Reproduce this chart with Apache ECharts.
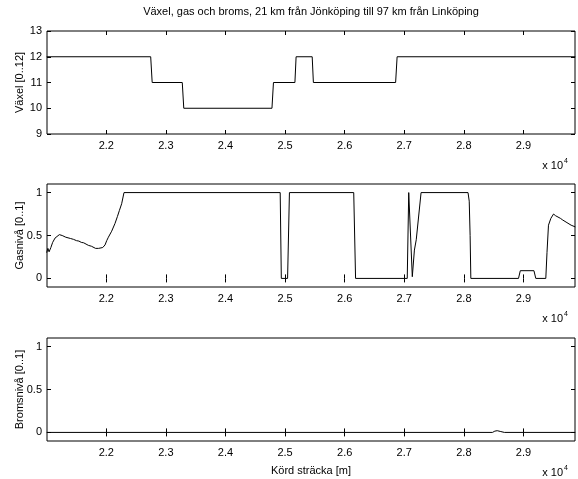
<!DOCTYPE html>
<html><head><meta charset="utf-8">
<script src="https://cdn.jsdelivr.net/npm/echarts@6/dist/echarts.min.js"></script>
<style>html,body{margin:0;padding:0;background:#fff}#c{width:578px;height:479px}</style>
</head><body><div id="c"></div>
<script>
var titleText = 'Växel, gas och broms, 21 km från Jönköping till 97 km från Linköping';
var yNames = ['Växel [0..12]', 'Gasnivå [0..1]', 'Bromsnivå [0..1]'];
var xName = 'Körd sträcka [m]';
var xTicks = [22000, 23000, 24000, 25000, 26000, 27000, 28000, 29000];
var gearTicks = [9, 10, 11, 12, 13];
var levelTicks = [0, 0.5, 1];

var gearX = [21000, 22745, 22770, 23275, 23300, 24780, 24805, 25165, 25185, 25455, 25475, 26855, 26880, 29870];
var gearY = [12, 12, 11, 11, 10, 10, 11, 11, 12, 12, 11, 11, 12, 12];

var gasX = [21000, 21020, 21040, 21070, 21100, 21140, 21170, 21212, 21260, 21320, 21400, 21450, 21500, 21540, 21580, 21600, 21620, 21660, 21700, 21720, 21750, 21780, 21820, 21870, 21895, 21940, 21979, 22007, 22035, 22090, 22146, 22186, 22219, 22258, 22297,
  24918, 24937, 25042, 25073, 26152, 26183, 27050, 27075, 27095, 27135, 27170, 27201, 27282, 28070, 28090, 28105, 28117, 28917, 28947, 29176, 29207, 29375, 29395, 29420, 29460, 29505, 29540, 29620, 29660, 29730, 29800, 29870];
var gasY = [0.30, 0.35, 0.31, 0.36, 0.42, 0.47, 0.48, 0.51, 0.50, 0.48, 0.465, 0.455, 0.44, 0.435, 0.42, 0.41, 0.415, 0.40, 0.385, 0.39, 0.375, 0.365, 0.35, 0.35, 0.345, 0.36, 0.39, 0.44, 0.48, 0.55, 0.64, 0.72, 0.79, 0.87, 1.0,
  1.0, 0, 0, 1.0, 1.0, 0, 0, 1.0, 1.0, 0.02, 0.33, 0.45, 1.0, 1.0, 0.9, 0.5, 0, 0, 0.09, 0.09, 0, 0, 0.3, 0.62, 0.70, 0.75, 0.73, 0.70, 0.68, 0.65, 0.62, 0.60];

var brakeX = [21000, 28480, 28520, 28560, 28620, 28680, 29870];
var brakeY = [0, 0, 0.015, 0.02, 0.01, 0, 0];

function pairs(xs, ys) { return xs.map(function (x, i) { return [x, ys[i]]; }); }

var FONT = 'Liberation Sans, Arial, sans-serif';
var FS = 11;
var XMIN = 21005, XMAX = 29865;
var tops = [31, 184, 338], H = 103, LEFT = 47, W = 528;

var grids = [], xAxes = [], yAxes = [], series = [];
var datasets = [pairs(gearX, gearY), pairs(gasX, gasY), pairs(brakeX, brakeY)];
for (var k = 0; k < 3; k++) {
  grids.push({ left: LEFT, top: tops[k], width: W, height: H, show: true, borderColor: '#000', borderWidth: 1, backgroundColor: 'transparent' });
  var tickCommon = { show: true, inside: true, length: 4, lineStyle: { color: '#000', width: 1 }, customValues: xTicks };
  xAxes.push({
    gridIndex: k, type: 'value', min: XMIN, max: XMAX, position: 'bottom',
    axisLine: { show: false }, splitLine: { show: false },
    axisTick: tickCommon,
    axisLabel: { show: true, customValues: xTicks, color: '#000', fontFamily: FONT, fontSize: FS, margin: 6,
      formatter: function (v) { return (v / 10000).toFixed(1); } },
    name: k === 2 ? xName : '', nameLocation: 'middle', nameGap: 24, nameMoveOverlap: false,
    nameTextStyle: { color: '#000', fontFamily: FONT, fontSize: FS }
  });
  xAxes.push({
    gridIndex: k, type: 'value', min: XMIN, max: XMAX, position: 'top',
    axisLine: { show: false }, splitLine: { show: false },
    axisTick: tickCommon, axisLabel: { show: false }
  });
  var yt = k === 0 ? gearTicks : levelTicks;
  var ymin = k === 0 ? 9 : -0.1, ymax = k === 0 ? 13 : 1.1;
  var ytick = { show: true, inside: true, length: 4, lineStyle: { color: '#000', width: 1 }, customValues: yt };
  yAxes.push({
    gridIndex: k, type: 'value', min: ymin, max: ymax, position: 'left',
    axisLine: { show: false }, splitLine: { show: false },
    axisTick: ytick,
    axisLabel: { show: true, customValues: yt, color: '#000', fontFamily: FONT, fontSize: FS, margin: 5,
      formatter: function (v) { return String(Math.round(v * 10) / 10); } },
    name: yNames[k], nameLocation: 'middle', nameGap: 22, nameRotate: 90, nameMoveOverlap: false,
    nameTextStyle: { color: '#000', fontFamily: FONT, fontSize: FS }
  });
  yAxes.push({
    gridIndex: k, type: 'value', min: ymin, max: ymax, position: 'right',
    axisLine: { show: false }, splitLine: { show: false },
    axisTick: ytick, axisLabel: { show: false }
  });
  series.push({
    type: 'line', xAxisIndex: 2 * k, yAxisIndex: 2 * k, data: datasets[k],
    showSymbol: false, symbol: 'none', lineStyle: { color: '#000', width: 1 }, silent: true, clip: true
  });
}

var graphics = [{ type: 'text', x: LEFT + W / 2, y: 12, style: { text: titleText, fill: '#000', font: FS + 'px ' + FONT, textAlign: 'center', textVerticalAlign: 'middle' } }];
for (var k = 0; k < 3; k++) {
  var yb = tops[k] + H + 32;
  graphics.push({ type: 'text', x: 563, y: yb, style: { text: 'x 10', fill: '#000', font: FS + 'px ' + FONT, textAlign: 'right', textVerticalAlign: 'middle' } });
  graphics.push({ type: 'text', x: 564, y: yb - 5, style: { text: '4', fill: '#000', font: '7px ' + FONT, textAlign: 'left', textVerticalAlign: 'middle' } });
}

var chart = echarts.init(document.getElementById('c'), null, { renderer: 'canvas' });
chart.setOption({
  animation: false, backgroundColor: '#fff',
  grid: grids, xAxis: xAxes, yAxis: yAxes, series: series, graphic: graphics
});
</script></body></html>
